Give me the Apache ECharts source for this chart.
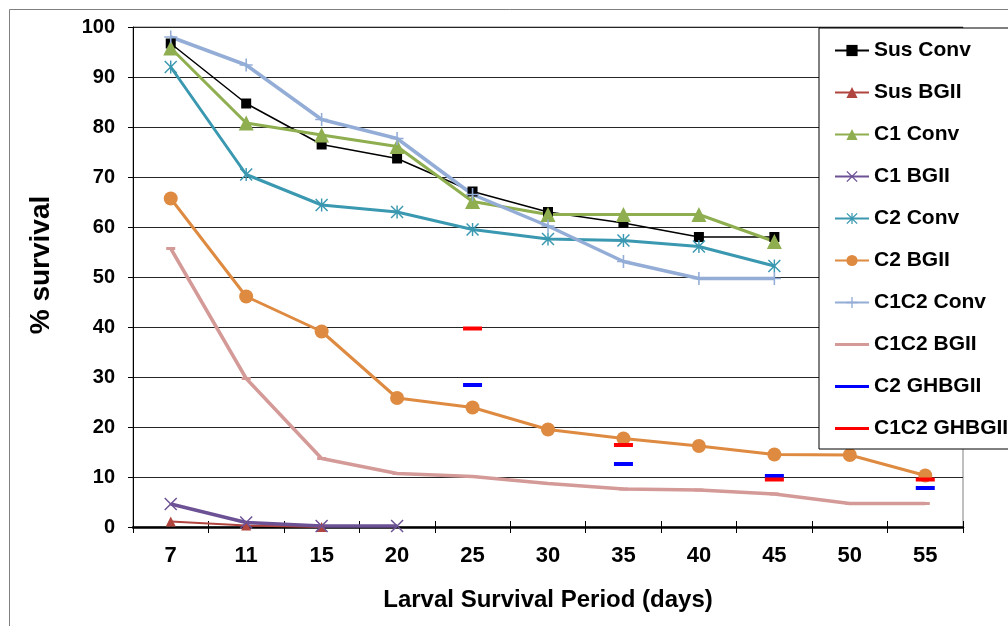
<!DOCTYPE html>
<html>
<head>
<meta charset="utf-8">
<script src="https://cdn.jsdelivr.net/npm/echarts@6/dist/echarts.min.js"></script>
<style>
  html, body { margin: 0; padding: 0; background: #fff; }
  #main { width: 1008px; height: 626px; }
</style>
</head>
<body>
<div id="main"></div>
<script>
// 幼虫存活天数
var days = ['7', '11', '15', '20', '25', '30', '35', '40', '45', '50', '55']
var susConv = [96.7, 84.7, 76.5, 73.7, 67.1, 63, 60.8, 58, 58, '-', '-']
var susBGII = [1.1, 0.3, 0, '-', '-', '-', '-', '-', '-', '-', '-']
var c1Conv = [95.8, 80.8, 78.4, 76.1, 65.1, 62.5, 62.5, 62.5, 57.1, '-', '-']
var c1BGII = [4.6, 0.9, 0.2, 0.2, '-', '-', '-', '-', '-', '-', '-']
var c2Conv = [92, 70.5, 64.4, 63, 59.5, 57.6, 57.3, 56.1, 52.2, '-', '-']
var c2BGII = [65.7, 46.1, 39.1, 25.8, 23.9, 19.5, 17.7, 16.2, 14.5, 14.4, 10.3]
var c1c2Conv = [98, 92.4, 81.5, 77.7, 66.5, 60.2, 53.1, 49.7, 49.7, '-', '-']
var c1c2BGII = [55.7, 29.7, 13.7, 10.7, 10.1, 8.7, 7.6, 7.4, 6.6, 4.7, 4.7]
var c2GHBGII = ['-', '-', '-', '-', 28.4, '-', 12.6, '-', 10.2, '-', 7.8]
var c1c2GHBGII = ['-', '-', '-', '-', 39.7, '-', 16.4, '-', 9.5, '-', 9.5]

var FONT = 'Liberation Sans, Arial, sans-serif'
// 自定义标记
var xMark = 'path://M0,0.8L0.8,0L5,4.2L9.2,0L10,0.8L5.8,5L10,9.2L9.2,10L5,5.8L0.8,10L0,9.2L4.2,5Z'
var starMark = xMark + 'M4.45,0H5.55V10H4.45Z'
var plusMark = 'path://M4.4,0H5.6V4.4H10V5.6H5.6V10H4.4V5.6H0V4.4H4.4Z'
var dashMark = 'path://M0,0H10V3H0Z'
var lineIcon = 'path://M0,0H34V3H0Z'

var myChart = echarts.init(document.getElementById('main'))

function lineSeries (name, data, color, width, symbol, size) {
  return {
    name: name,
    type: 'line',
    data: data,
    symbol: symbol,
    symbolSize: size,
    showAllSymbol: true,
    lineStyle: { color: color, width: width },
    itemStyle: { color: color },
    emphasis: { disabled: true }
  }
}

var option = {
  animation: false,
  backgroundColor: '#fff',
  graphic: [{
    type: 'rect',
    shape: { x: 9.5, y: 9.5, width: 1200, height: 800 },
    style: { fill: 'none', stroke: '#808080', lineWidth: 1 },
    z: -10
  }],
  grid: {
    left: 133,
    right: 45,
    top: 27,
    bottom: 99,
    show: true,
    borderColor: '#808080',
    borderWidth: 1
  },
  legend: {
    orient: 'vertical',
    left: 819,
    top: 28,
    padding: [12, 80, 10, 15],
    itemWidth: 34,
    itemHeight: 14,
    itemGap: 21,
    backgroundColor: '#fff',
    borderColor: '#000',
    borderWidth: 1,
    textStyle: { color: '#000', fontSize: 21, fontWeight: 'bold', fontFamily: FONT },
    data: [
      'Sus Conv', 'Sus BGII', 'C1 Conv', 'C1 BGII', 'C2 Conv', 'C2 BGII', 'C1C2 Conv',
      { name: 'C1C2 BGII', icon: lineIcon },
      { name: 'C2 GHBGII', icon: lineIcon },
      { name: 'C1C2 GHBGII', icon: lineIcon }
    ]
  },
  xAxis: [
    {
      type: 'category',
      data: days,
      boundaryGap: true,
      name: 'Larval Survival Period (days)',
      nameLocation: 'middle',
      nameGap: 61,
      nameTextStyle: { color: '#000', fontSize: 24, fontWeight: 'bold', fontFamily: FONT },
      axisLine: { lineStyle: { color: '#000', width: 2.5 } },
      axisTick: { show: true, interval: 0, length: 6, lineStyle: { color: '#000', width: 1 } },
      axisLabel: { color: '#000', fontSize: 22, fontWeight: 'bold', fontFamily: FONT, margin: 18, interval: 0 },
      splitLine: { show: false }
    },
    {
      // 只用来画轴线上方的短刻度
      type: 'category',
      data: days,
      boundaryGap: true,
      position: 'top',
      offset: -500,
      axisLine: { show: false },
      axisTick: { show: true, interval: 0, length: 6, lineStyle: { color: '#000', width: 1 } },
      axisLabel: { show: false },
      splitLine: { show: false }
    }
  ],
  yAxis: {
    type: 'value',
    min: 0,
    max: 100,
    interval: 10,
    name: '% survival',
    nameLocation: 'middle',
    nameGap: 78,
    nameTextStyle: { color: '#000', fontSize: 28, fontWeight: 'bold', fontFamily: FONT, padding: [0, 0, 0, 24] },
    axisLine: { show: true, lineStyle: { color: '#000', width: 1 } },
    axisTick: { show: true, length: 5, lineStyle: { color: '#000' } },
    axisLabel: { color: '#000', fontSize: 20, fontWeight: 'bold', fontFamily: FONT, margin: 18 },
    splitLine: { show: true, lineStyle: { color: '#262626', width: 1 } }
  },
  series: [
    lineSeries('Sus Conv', susConv, '#000000', 1.5, 'rect', 10),
    lineSeries('Sus BGII', susBGII, '#B0443F', 2, 'triangle', 10),
    lineSeries('C1 Conv', c1Conv, '#8EAE4F', 3, 'triangle', 15),
    lineSeries('C1 BGII', c1BGII, '#6C5295', 3.5, xMark, 13),
    lineSeries('C2 Conv', c2Conv, '#3A98B0', 3, starMark, 13),
    lineSeries('C2 BGII', c2BGII, '#DE8A40', 3, 'circle', 14),
    lineSeries('C1C2 Conv', c1c2Conv, '#93ADD6', 3.5, plusMark, 13),
    lineSeries('C1C2 BGII', c1c2BGII, '#D49A98', 3.5, dashMark, [9, 3]),
    lineSeries('C2 GHBGII', c2GHBGII, '#0000FF', 3, dashMark, [19, 4]),
    lineSeries('C1C2 GHBGII', c1c2GHBGII, '#FF0000', 3, dashMark, [19, 4])
  ]
}
myChart.setOption(option)
</script>
</body>
</html>
